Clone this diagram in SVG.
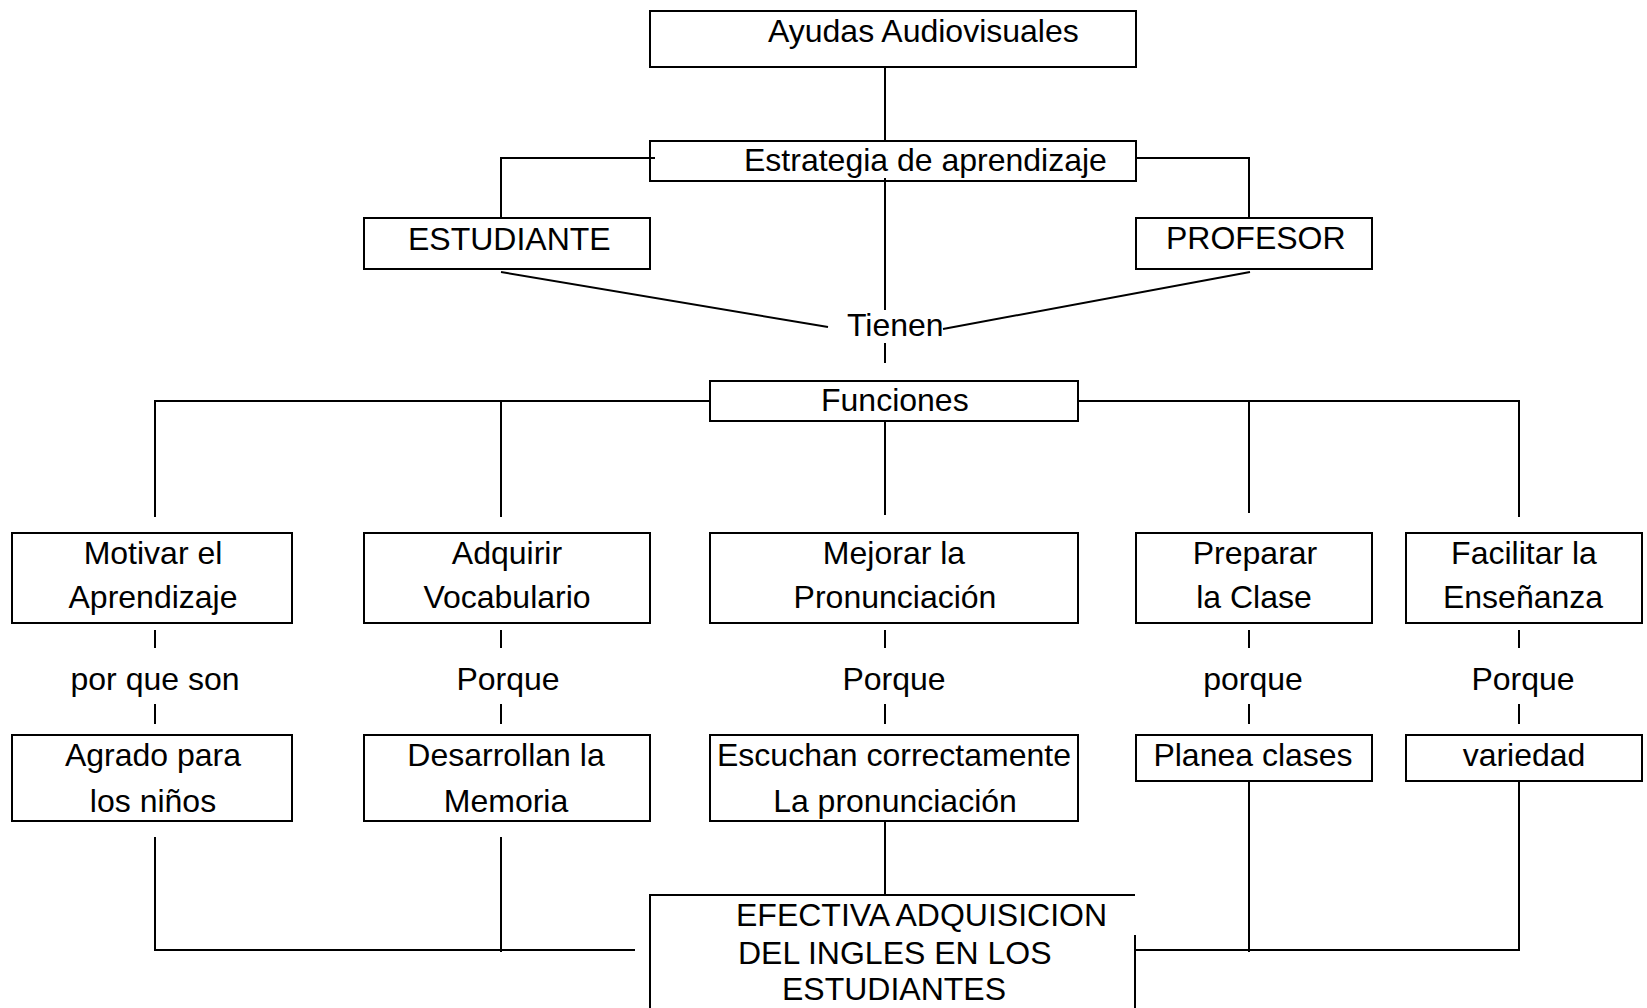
<svg xmlns="http://www.w3.org/2000/svg" width="1647" height="1008" viewBox="0 0 1647 1008">
<style>
.b{fill:#fff;stroke:#000;stroke-width:2}
.l{fill:none;stroke:#000;stroke-width:2}
text{font-family:"Liberation Sans",Arial,sans-serif;font-size:32px;fill:#000}
.c{text-anchor:middle}
</style>
<rect width="1647" height="1008" fill="#fff"/>
<g id="connectors">
<path class="l" d="M885 63V141"/>
<path class="l" d="M655 158H501V218"/>
<path class="l" d="M1136 158H1249V218"/>
<path class="l" d="M885 178V310"/>
<path class="l" d="M501 272L828 327"/>
<path class="l" d="M1250 272L943 329"/>
<path class="l" d="M885 343V363"/>
<path class="l" d="M713 401H155V517"/>
<path class="l" d="M501 401V517"/>
<path class="l" d="M885 421V515"/>
<path class="l" d="M1078 401H1519V517"/>
<path class="l" d="M1249 401V513"/>
<path class="l" d="M155 630V648M155 704V724"/>
<path class="l" d="M501 630V648M501 704V724"/>
<path class="l" d="M885 630V648M885 704V724"/>
<path class="l" d="M1249 630V648M1249 704V724"/>
<path class="l" d="M1519 630V648M1519 704V724"/>
<path class="l" d="M885 819V895"/>
<path class="l" d="M155 837V950H635"/>
<path class="l" d="M501 837V952"/>
<path class="l" d="M1135 950H1519V779"/>
<path class="l" d="M1249 779V952"/>
</g>
<g id="n-ayudas"><rect class="b" x="650" y="11" width="486" height="56"/><text x="768" y="42">Ayudas Audiovisuales</text></g>
<g id="n-estrategia"><rect class="b" x="650" y="141" width="486" height="40" fill-opacity="0"/><text x="744" y="171">Estrategia de aprendizaje</text></g>
<g id="n-estudiante"><rect class="b" x="364" y="218" width="286" height="51"/><text x="408" y="250">ESTUDIANTE</text></g>
<g id="n-profesor"><rect class="b" x="1136" y="218" width="236" height="51"/><text x="1166" y="249">PROFESOR</text></g>
<g id="n-tienen"><text x="847" y="336">Tienen</text></g>
<g id="n-funciones"><rect class="b" x="710" y="381" width="368" height="40"/><text x="821" y="411">Funciones</text></g>
<g id="n-motivar"><rect class="b" x="12" y="533" width="280" height="90"/><text class="c" x="153" y="564">Motivar el</text><text class="c" x="153" y="608">Aprendizaje</text></g>
<g id="n-adquirir"><rect class="b" x="364" y="533" width="286" height="90"/><text class="c" x="507" y="564">Adquirir</text><text class="c" x="507" y="608">Vocabulario</text></g>
<g id="n-mejorar"><rect class="b" x="710" y="533" width="368" height="90"/><text class="c" x="894" y="564">Mejorar la</text><text class="c" x="895" y="608">Pronunciación</text></g>
<g id="n-preparar"><rect class="b" x="1136" y="533" width="236" height="90"/><text class="c" x="1255" y="564">Preparar</text><text class="c" x="1254" y="608">la Clase</text></g>
<g id="n-facilitar"><rect class="b" x="1406" y="533" width="236" height="90"/><text class="c" x="1524" y="564">Facilitar la</text><text class="c" x="1523" y="608">Enseñanza</text></g>
<g id="l-1"><text class="c" x="155" y="690">por que son</text></g>
<g id="l-2"><text class="c" x="508" y="690">Porque</text></g>
<g id="l-3"><text class="c" x="894" y="690">Porque</text></g>
<g id="l-4"><text class="c" x="1253" y="690">porque</text></g>
<g id="l-5"><text class="c" x="1523" y="690">Porque</text></g>
<g id="n-agrado"><rect class="b" x="12" y="735" width="280" height="86"/><text class="c" x="153" y="766">Agrado para</text><text class="c" x="153" y="812">los niños</text></g>
<g id="n-desarrollan"><rect class="b" x="364" y="735" width="286" height="86"/><text class="c" x="506" y="766">Desarrollan la</text><text class="c" x="506" y="812">Memoria</text></g>
<g id="n-escuchan"><rect class="b" x="710" y="735" width="368" height="86"/><text class="c" x="894" y="766">Escuchan correctamente</text><text class="c" x="895" y="812">La pronunciación</text></g>
<g id="n-planea"><rect class="b" x="1136" y="735" width="236" height="46"/><text class="c" x="1253" y="766">Planea clases</text></g>
<g id="n-variedad"><rect class="b" x="1406" y="735" width="236" height="46"/><text class="c" x="1524" y="766">variedad</text></g>
<g id="n-efectiva"><path class="l" d="M650 1010V895H1135M1135 935V1010"/><text x="736" y="926">EFECTIVA ADQUISICION</text><text x="738" y="964">DEL INGLES EN LOS</text><text x="782" y="1000">ESTUDIANTES</text></g>
</svg>
